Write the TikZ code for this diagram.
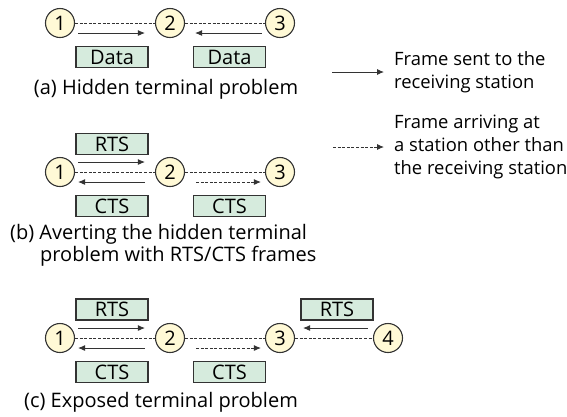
\documentclass[tikz,border=0pt]{standalone}
\usepackage{fontspec}
\setmainfont{Open Sans}
\usetikzlibrary{arrows.meta}
\definecolor{stationfill}{HTML}{FFF9D6}
\definecolor{framefill}{HTML}{D6EBDD}
\definecolor{inkgray}{HTML}{333333}
\tikzset{
  station/.style={circle, draw=inkgray, line width=1.1pt, fill=stationfill,
    minimum size=29pt, inner sep=0pt, font=\fontsize{20}{22}\selectfont},
  framebox/.style={rectangle, draw=inkgray, line width=1.1pt, fill=framefill,
    minimum width=72pt, minimum height=21pt, inner sep=0pt,
    font=\fontsize{20}{22}\selectfont},
  link/.style={draw=inkgray, line width=0.9pt, dash pattern=on 3pt off 1.6pt},
  sent/.style={draw=inkgray, line width=0.9pt, -{Latex[length=7pt,width=6pt]}},
  overheard/.style={sent, dash pattern=on 3pt off 1.6pt},
  caption/.style={font=\fontsize{20}{22}\selectfont, inner sep=0pt},
  legendtext/.style={font=\fontsize{18.4}{23}\selectfont, align=left, inner sep=0pt, anchor=west}
}
\begin{document}
\begin{tikzpicture}[x=1pt,y=-1pt]
\useasboundingbox (0,0) rectangle (567,416);

% ---------- (a) hidden terminal ----------
\node[station] (a1) at (60,23) {1};
\node[station] (a2) at (170,23) {2};
\node[station] (a3) at (280,23) {3};
\draw[link] (a1) -- (a2);
\draw[link] (a2) -- (a3);
\draw[sent] ([shift={(3,10)}]a1.east) -- ([shift={(-10,10)}]a2.west);
\draw[sent] ([shift={(-3,10)}]a3.west) -- ([shift={(10,10)}]a2.east);
\node[framebox] (ad1) at (112,57) {Data};
\node[framebox] (ad2) at (229.5,57) {Data};
\node[caption] (acap) at (166,89) {(a) Hidden terminal problem};

% ---------- (b) RTS/CTS ----------
\node[station] (b1) at (60,172) {1};
\node[station] (b2) at (170,172) {2};
\node[station] (b3) at (280,172) {3};
\draw[link] (b1) -- (b2);
\draw[link] (b2) -- (b3);
\draw[sent] ([shift={(3,-10)}]b1.east) -- ([shift={(-10,-10)}]b2.west);
\draw[sent] ([shift={(-10,10)}]b2.west) -- ([shift={(3,10)}]b1.east);
\draw[overheard] ([shift={(11,10)}]b2.east) -- ([shift={(-4,10)}]b3.west);
\node[framebox] (brts) at (112,144) {RTS};
\node[framebox] (bcts1) at (112,206) {CTS};
\node[framebox] (bcts2) at (229.5,206) {CTS};
\node[caption, anchor=west] (bcap1) at (10,234) {(b) Averting the hidden terminal};
\node[caption, anchor=west] (bcap2) at (40,256) {problem with RTS/CTS frames};

% ---------- (c) exposed terminal ----------
\node[station] (c1) at (60,338) {1};
\node[station] (c2) at (170,338) {2};
\node[station] (c3) at (280,338) {3};
\node[station] (c4) at (388,338) {4};
\draw[link] (c1) -- (c2);
\draw[link] (c2) -- (c3);
\draw[link] (c3) -- (c4);
\draw[sent] ([shift={(3,-10)}]c1.east) -- ([shift={(-10,-10)}]c2.west);
\draw[sent] ([shift={(-10,10)}]c2.west) -- ([shift={(3,10)}]c1.east);
\draw[overheard] ([shift={(11,10)}]c2.east) -- ([shift={(-4,10)}]c3.west);
\draw[sent] ([shift={(-5,-10)}]c4.west) -- ([shift={(8,-10)}]c3.east);
\node[framebox] (crts1) at (112,309.5) {RTS};
\node[framebox] (crts2) at (337,309.5) {RTS};
\node[framebox] (ccts1) at (112,372) {CTS};
\node[framebox] (ccts2) at (229.5,372) {CTS};
\node[caption] (ccap) at (161,402) {(c) Exposed terminal problem};

% ---------- legend ----------
\coordinate (ls0) at (332,72);
\coordinate (ls1) at (384,72);
\draw[sent] (ls0) -- (ls1);
\node[legendtext] (lsent) at (394,72) {Frame sent to the\\receiving station};
\coordinate (lo0) at (333,147);
\coordinate (lo1) at (384,147);
\draw[overheard] (lo0) -- (lo1);
\node[legendtext] (lover) at (394,147) {Frame arriving at\\a station other than\\the receiving station};
\end{tikzpicture}
\end{document}
